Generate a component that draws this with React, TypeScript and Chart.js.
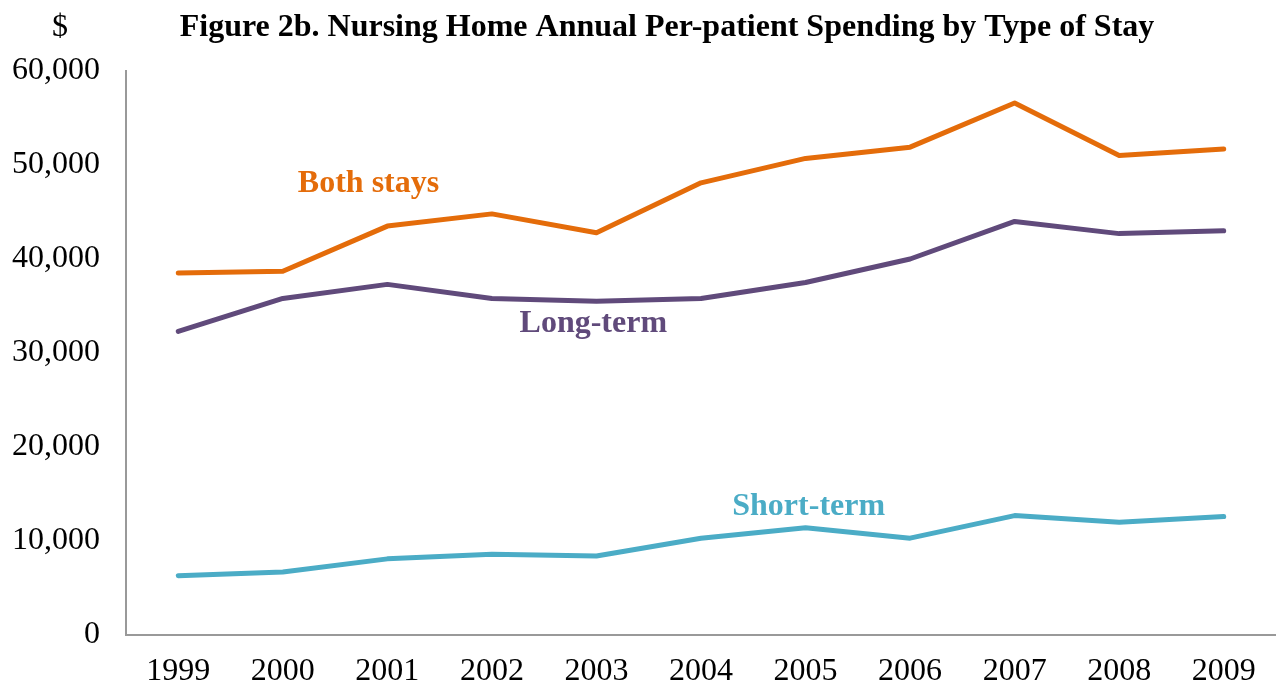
import React, { useEffect, useRef } from "react";
import { Chart, registerables } from "chart.js";

Chart.register(...registerables);

const years = ["1999", "2000", "2001", "2002", "2003", "2004", "2005", "2006", "2007", "2008", "2009"];
const bothStays = [38500, 38700, 43500, 44800, 42800, 48100, 50700, 51900, 56600, 51000, 51700];
const longTerm = [32300, 35800, 37300, 35800, 35500, 35800, 37500, 40000, 44000, 42700, 43000];
const shortTerm = [6300, 6700, 8100, 8600, 8400, 10300, 11400, 10300, 12700, 12000, 12600];
const yTicks = [0, 10000, 20000, 30000, 40000, 50000, 60000];

const titleText = "Figure 2b. Nursing Home Annual Per-patient Spending by Type of Stay";
const unitText = "$";
const seriesLabels = [
  { text: "Both stays", color: "#E46C0A", xIdx: 1.82, y: 47960 },
  { text: "Long-term", color: "#604A7B", xIdx: 3.97, y: 33150 },
  { text: "Short-term", color: "#4BACC6", xIdx: 6.03, y: 13640 },
];

const FONT = "'Liberation Serif', 'Times New Roman', serif";
const FS = 32;

export default function App() {
  const ref = useRef<HTMLCanvasElement | null>(null);
  useEffect(() => {
    document.body.style.margin = "0";
    const canvas = ref.current;
    if (!canvas) return;
    const overlay = {
      id: "overlay",
      afterDraw(chart: any) {
        const ctx = chart.ctx;
        const xs = chart.scales.x;
        const ys = chart.scales.y;
        ctx.save();
        ctx.textBaseline = "middle";
        ctx.textAlign = "center";
        ctx.fillStyle = "#000";
        ctx.font = `bold ${FS}px ${FONT}`;
        ctx.fillText(titleText, 667, 28);
        ctx.font = `${FS}px ${FONT}`;
        ctx.fillText(unitText, 60, 28);
        ctx.font = `bold ${FS}px ${FONT}`;
        for (const l of seriesLabels) {
          const x0 = xs.getPixelForValue(Math.floor(l.xIdx));
          const x1 = xs.getPixelForValue(Math.floor(l.xIdx) + 1);
          const x = x0 + (x1 - x0) * (l.xIdx - Math.floor(l.xIdx));
          ctx.fillStyle = l.color;
          ctx.fillText(l.text, x, ys.getPixelForValue(l.y));
        }
        ctx.restore();
      },
    };
    const mk = (label: string, data: number[], color: string) => ({
      label,
      data,
      borderColor: color,
      backgroundColor: color,
      borderWidth: 5,
      pointRadius: 0,
      tension: 0,
      borderCapStyle: "round" as const,
      borderJoinStyle: "round" as const,
    });
    const chart = new Chart(canvas, {
      type: "line",
      data: {
        labels: years,
        datasets: [
          mk("Both stays", bothStays, "#E46C0A"),
          mk("Long-term", longTerm, "#604A7B"),
          mk("Short-term", shortTerm, "#4BACC6"),
        ],
      },
      options: {
        responsive: false,
        animation: false,
        layout: { padding: { top: 71, right: 0, left: 0, bottom: 0 } },
        plugins: { legend: { display: false }, title: { display: false }, tooltip: { enabled: false } },
        scales: {
          x: {
            offset: true,
            grid: { display: false, drawTicks: false },
            border: { display: true, color: "#999", width: 2 },
            ticks: { color: "#000", font: { family: FONT, size: FS }, padding: 17, maxRotation: 0 },
            afterFit(scale: any) {
              scale.height = 53;
            },
          },
          y: {
            min: 0,
            max: 60000,
            afterBuildTicks(scale: any) {
              scale.ticks = yTicks.map((v) => ({ value: v }));
            },
            grid: { display: false, drawTicks: false },
            border: { display: true, color: "#999", width: 2 },
            ticks: {
              color: "#000",
              font: { family: FONT, size: FS },
              padding: 26,
              callback: (v: any) => Number(v).toLocaleString("en-US"),
            },
            afterFit(scale: any) {
              scale.width = 126;
            },
          },
        },
      },
      plugins: [overlay],
    });
    return () => chart.destroy();
  }, []);
  return <canvas ref={ref} width={1276} height={688} style={{ display: "block" }} />;
}
